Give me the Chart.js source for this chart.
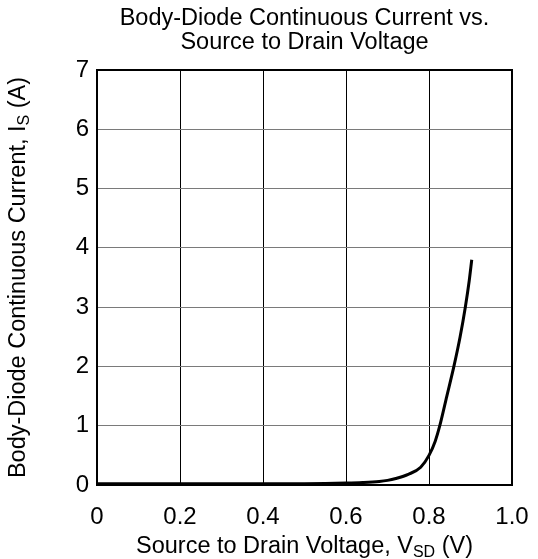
<!DOCTYPE html>
<html>
<head>
<meta charset="utf-8">
<script src="https://cdn.jsdelivr.net/npm/chart.js@4"></script>
<style>
html,body{margin:0;padding:0;background:#fff;}
#wrap{width:538px;height:559px;position:relative;}
</style>
</head>
<body>
<div id="wrap"><canvas id="c" width="538" height="559"></canvas></div>
<script>
// ---- data ----
const titleLines = ['Body-Diode Continuous Current vs.', 'Source to Drain Voltage'];
const xTickLabels = ['0', '0.2', '0.4', '0.6', '0.8', '1.0'];
const yTickLabels = ['0', '1', '2', '3', '4', '5', '6', '7'];
const vsd = [0, 0.1, 0.2, 0.3, 0.4, 0.5, 0.55, 0.6, 0.64, 0.68, 0.70, 0.72, 0.75, 0.78, 0.80, 0.815, 0.826, 0.843, 0.860, 0.875, 0.8875, 0.897, 0.903];
const isCurrent = [0.02, 0.02, 0.02, 0.02, 0.02, 0.022, 0.025, 0.032, 0.042, 0.06, 0.078, 0.11, 0.18, 0.3, 0.5, 0.74, 1.0, 1.5, 2.0, 2.5, 3.0, 3.45, 3.8];
const xTitleParts = [['Source to Drain Voltage, V', false], ['SD', true], [' (V)', false]];
const yTitleParts = [['Body-Diode Continuous Current, I', false], ['S', true], [' (A)', false]];

const FONT = '"Liberation Sans", Arial, sans-serif';

function drawParts(ctx, parts, cx, cy, size) {
  const subSize = Math.round(size * 0.68);
  let total = 0;
  const widths = parts.map(([t, sub]) => {
    ctx.font = (sub ? subSize : size) + 'px ' + FONT;
    const w = ctx.measureText(t).width;
    total += w;
    return w;
  });
  let x = cx - total / 2;
  ctx.textBaseline = 'alphabetic';
  ctx.textAlign = 'left';
  parts.forEach(([t, sub], i) => {
    ctx.font = (sub ? subSize : size) + 'px ' + FONT;
    ctx.fillText(t, x, cy + (sub ? size * 0.18 : 0));
    x += widths[i];
  });
}

const textPlugin = {
  id: 'textPlugin',
  afterDraw(chart) {
    const ctx = chart.ctx;
    const a = chart.chartArea;
    ctx.save();
    ctx.fillStyle = '#000';
    ctx.font = '23.5px ' + FONT;
    ctx.textAlign = 'center';
    ctx.textBaseline = 'alphabetic';
    const cx = (a.left + a.right) / 2;
    ctx.fillText(titleLines[0], cx, 25);
    ctx.fillText(titleLines[1], cx, 49);
    // x title
    drawParts(ctx, xTitleParts, cx, 553, 23.5);
    // y title
    ctx.save();
    ctx.translate(25, (a.top + a.bottom) / 2);
    ctx.rotate(-Math.PI / 2);
    drawParts(ctx, yTitleParts, 0, 0, 23.5);
    ctx.restore();
    // border
    ctx.strokeStyle = '#000';
    ctx.lineWidth = 2;
    ctx.strokeRect(a.left, a.top, a.right - a.left, a.bottom - a.top);
    ctx.restore();
  }
};

new Chart(document.getElementById('c'), {
  type: 'line',
  data: {
    datasets: [{
      data: vsd.map((v, i) => ({ x: v, y: isCurrent[i] })),
      borderColor: '#000',
      borderWidth: 3,
      pointRadius: 0,
      fill: false,
      cubicInterpolationMode: 'monotone'
    }]
  },
  options: {
    responsive: false,
    animation: false,
    layout: { padding: { top: 70, right: 26, left: 0, bottom: 0 } },
    plugins: { legend: { display: false }, tooltip: { enabled: false }, title: { display: false } },
    scales: {
      x: {
        type: 'linear', min: 0, max: 1,
        afterBuildTicks(s) { s.ticks = xTickLabels.map(t => ({ value: parseFloat(t) })); },
        afterFit(s) { s.height = 74; s.paddingLeft = 0; s.paddingRight = 0; },
        ticks: {
          callback: (v, i) => xTickLabels[i],
          color: '#000', font: { family: FONT, size: 24 }, padding: 18, maxRotation: 0
        },
        grid: { color: '#000', lineWidth: 1, drawTicks: false },
        border: { display: false }
      },
      y: {
        type: 'linear', min: 0, max: 7,
        afterBuildTicks(s) { s.ticks = yTickLabels.map(t => ({ value: parseFloat(t) })); },
        afterFit(s) { s.width = 97; s.paddingTop = 0; s.paddingBottom = 0; },
        ticks: {
          callback: (v, i) => yTickLabels[i],
          color: '#000', font: { family: FONT, size: 24 }, padding: 8
        },
        grid: { color: '#7a7a7a', lineWidth: 1, drawTicks: false },
        border: { display: false }
      }
    }
  },
  plugins: [textPlugin]
});
</script>
</body>
</html>
